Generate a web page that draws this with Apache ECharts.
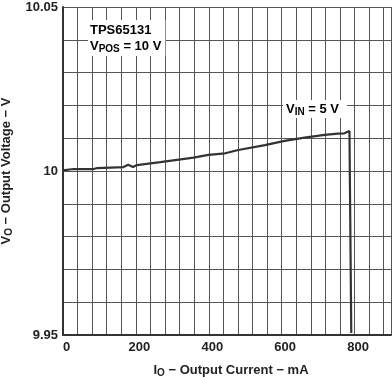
<!DOCTYPE html>
<html>
<head>
<meta charset="utf-8">
<script src="https://cdn.jsdelivr.net/npm/echarts@6/dist/echarts.min.js"></script>
<style>
html,body{margin:0;padding:0;background:#fff;}
#chart{width:392px;height:377px;}
</style>
</head>
<body>
<div id="chart"></div>
<script>
// Output current (mA)
var currentMA = [0, 29, 84, 94, 166, 179, 192, 203, 267, 313, 358, 399, 445, 481, 554, 608, 663, 718, 754, 772, 786, 789, 791];
// Output voltage (V)
var voltageV = [10.0002, 10.0006, 10.0006, 10.0009, 10.0012, 10.0019, 10.0012, 10.0018, 10.0027, 10.0034, 10.0041, 10.0049, 10.0054, 10.0064, 10.0079, 10.0092, 10.0102, 10.0110, 10.0114, 10.0115, 10.0122, 10.0120, 9.9506];
var xTickLabels = [0, 200, 400, 600, 800];
var yTickLabels = [9.95, 10, 10.05];

var seriesData = currentMA.map(function (x, i) { return [x, voltageV[i]]; });
var txt = '#222';
var rich = {
  b: {fontSize: 13, fontWeight: 'bold', color: txt, fontFamily: 'Liberation Sans'},
  s: {fontSize: 10, fontWeight: 'bold', color: txt, fontFamily: 'Liberation Sans', padding: [6, 0, 0, 0]}
};

var chart = echarts.init(document.getElementById('chart'), null, {renderer: 'canvas'});
chart.setOption({
  animation: false,
  backgroundColor: '#fff',
  grid: {left: 63, top: 7, right: 1, bottom: 42, containLabel: false, outerBoundsMode: 'none'},
  xAxis: {
    type: 'value', min: 0, max: 900, interval: 40,
    axisLine: {show: true, onZero: false, lineStyle: {color: '#333', width: 2}},
    axisTick: {show: false},
    splitLine: {show: true, lineStyle: {color: '#555', width: 1}},
    axisLabel: {
      margin: 6, color: txt, fontSize: 13, fontWeight: 'bold', fontFamily: 'Liberation Sans',
      padding: [0, 0, 0, 7],
      formatter: function (v) { return xTickLabels.indexOf(v) >= 0 ? String(v) : ''; }
    },
    name: '{b|I}{s|O}{b| − Output Current − mA}',
    nameLocation: 'middle', nameGap: 27,
    nameTextStyle: {rich: rich, padding: [0, 0, 0, 8]}
  },
  yAxis: {
    type: 'value', min: 9.95, max: 10.05, interval: 0.01,
    axisLine: {show: true, lineStyle: {color: '#333', width: 2}},
    axisTick: {show: false},
    splitLine: {show: true, lineStyle: {color: '#555', width: 1}},
    axisLabel: {
      margin: 5, color: txt, fontSize: 13, fontWeight: 'bold', fontFamily: 'Liberation Sans',
      formatter: function (v) {
        var r = Math.round(v * 100) / 100;
        return yTickLabels.indexOf(r) >= 0 ? String(r) : '';
      }
    },
    name: '{b|V}{s|O}{b| − Output Voltage − V}',
    nameLocation: 'middle', nameGap: 47, nameRotate: 90,
    nameTextStyle: {rich: rich}
  },
  series: [{
    type: 'line', data: seriesData, showSymbol: false, symbol: 'none',
    lineStyle: {color: '#333', width: 2.2}
  }],
  graphic: [
    {type: 'text', left: 88, top: 20, z: 10,
      style: {text: '{b|TPS65131}\n{b|V}{s|POS}{b| = 10 V}', rich: rich, backgroundColor: '#fff', padding: [2, 4, 2, 2], lineHeight: 16}},
    {type: 'text', left: 283, top: 100, z: 10,
      style: {text: '{b|V}{s|IN}{b| = 5 V}', rich: rich, backgroundColor: '#fff', padding: [1, 8, 1, 3]}}
  ]
});
</script>
</body>
</html>
